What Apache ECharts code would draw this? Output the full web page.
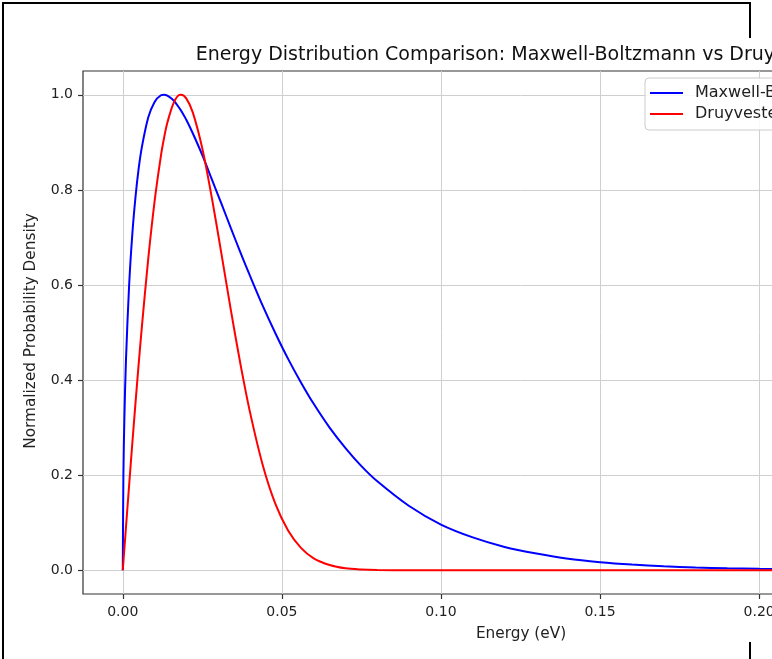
<!DOCTYPE html>
<html>
<head>
<meta charset="utf-8">
<script src="https://cdn.jsdelivr.net/npm/echarts@6/dist/echarts.min.js"></script>
<style>
  html, body { margin: 0; padding: 0; width: 772px; height: 659px; overflow: hidden; background: #fff; }
  #frame { position: absolute; left: 2px; top: 2px; width: 745px; height: 800px; border: 2px solid #000; }
  #cover { position: absolute; left: 6px; top: 38px; width: 900px; height: 604px; background: #fff; }
  #chart { position: absolute; left: 0; top: 0; width: 1000px; height: 659px; }
</style>
</head>
<body>
<div id="frame"></div>
<div id="cover"></div>
<div id="chart"></div>
<script>
const titleText = 'Energy Distribution Comparison: Maxwell-Boltzmann vs Druyvesteyn';
const xAxisLabel = 'Energy (eV)';
const yAxisLabel = 'Normalized Probability Density';
const seriesNames = ['Maxwell-Boltzmann', 'Druyvesteyn'];
const xTicks = [0, 0.05, 0.10, 0.15, 0.20, 0.25];
const yTicks = [0, 0.2, 0.4, 0.6, 0.8, 1.0];

const energy = [0, 0.0002, 0.0005, 0.001, 0.002, 0.003, 0.004, 0.005, 0.006, 0.008,
  0.010, 0.012, 0.013, 0.014, 0.016, 0.018, 0.0183, 0.020, 0.022, 0.025,
  0.028, 0.031, 0.034, 0.037, 0.040, 0.044, 0.048, 0.052, 0.056, 0.060,
  0.065, 0.070, 0.075, 0.080, 0.090, 0.100, 0.110, 0.120, 0.130, 0.140,
  0.150, 0.160, 0.170, 0.180, 0.190, 0.200, 0.210, 0.220, 0.230, 0.240, 0.250];

const maxwell = [0, 0.203, 0.318, 0.441, 0.600, 0.707, 0.785, 0.845, 0.890, 0.952,
  0.985, 0.999, 1.000, 0.998, 0.988, 0.970, 0.967, 0.947, 0.919, 0.873,
  0.822, 0.771, 0.719, 0.668, 0.619, 0.556, 0.498, 0.444, 0.395, 0.350,
  0.300, 0.257, 0.219, 0.187, 0.135, 0.096, 0.069, 0.049, 0.035, 0.024,
  0.017, 0.012, 0.0084, 0.0059, 0.0041, 0.0029, 0.0020, 0.0014, 0.0010, 0.0007, 0.0005];

const druyvesteyn = [0, 0.018, 0.045, 0.090, 0.179, 0.267, 0.352, 0.434, 0.512, 0.655,
  0.776, 0.872, 0.910, 0.941, 0.983, 1.000, 1.000, 0.992, 0.963, 0.887,
  0.783, 0.666, 0.546, 0.433, 0.332, 0.221, 0.139, 0.083, 0.047, 0.025,
  0.011, 0.004, 0.0015, 0.0005, 0, 0, 0, 0, 0, 0,
  0, 0, 0, 0, 0, 0, 0, 0, 0, 0, 0];

const FONT = '"DejaVu Sans", sans-serif';
const chart = echarts.init(document.getElementById('chart'), null, { renderer: 'canvas' });

const gridLineStyle = { color: '#cfcfcf', width: 1, type: 'solid' };

chart.setOption({
  animation: false,
  backgroundColor: 'transparent',
  grid: { left: 83, right: 42, top: 71, bottom: 65, show: true, borderColor: '#333', borderWidth: 1.2, containLabel: false },
  graphic: [
    { type: 'text', x: 523, y: 55, style: { text: titleText, font: '19px ' + FONT, fill: '#111', textAlign: 'center', textVerticalAlign: 'middle' } },
    { type: 'text', x: 521, y: 634, style: { text: xAxisLabel, font: '15.3px ' + FONT, fill: '#222', textAlign: 'center', textVerticalAlign: 'middle' } },
    { type: 'text', x: 31, y: 331, rotation: Math.PI / 2, style: { text: yAxisLabel, font: '15.3px ' + FONT, fill: '#222', textAlign: 'center', textVerticalAlign: 'middle' } }
  ],
  legend: {
    data: seriesNames,
    orient: 'vertical',
    left: 645, top: 78,
    backgroundColor: 'rgba(255,255,255,0.85)',
    borderColor: '#cccccc', borderWidth: 1, borderRadius: 4,
    padding: [7, 8, 8, 5],
    itemGap: 5, itemWidth: 33, itemHeight: 2, icon: 'rect',
    textStyle: { fontSize: 16, fontFamily: FONT, color: '#222', padding: [0, 0, 0, 7], lineHeight: 16 }
  },
  xAxis: {
    type: 'value', min: -0.0125, max: 0.2625,
    axisLine: { show: false, onZero: false },
    axisTick: { show: true, inside: false, length: 5, lineStyle: { color: '#333', width: 1.2 }, customValues: xTicks },
    axisLabel: { customValues: xTicks, margin: 11, fontSize: 14, fontFamily: FONT, color: '#222', formatter: v => v.toFixed(2) },
    splitLine: { show: true, customValues: xTicks, lineStyle: gridLineStyle }
  },
  yAxis: {
    type: 'value', min: -0.05, max: 1.05,
    axisLine: { show: false, onZero: false },
    axisTick: { show: true, inside: false, length: 5, lineStyle: { color: '#333', width: 1.2 }, customValues: yTicks },
    axisLabel: { customValues: yTicks, margin: 10, fontSize: 14, fontFamily: FONT, color: '#222', formatter: v => v.toFixed(1) },
    splitLine: { show: true, customValues: yTicks, lineStyle: gridLineStyle }
  },
  series: [
    {
      name: seriesNames[0], type: 'line', z: 3, showSymbol: false, smooth: 0.3,
      color: '#0000ff', lineStyle: { color: '#0000ff', width: 2 },
      data: energy.map((e, i) => [e, maxwell[i]])
    },
    {
      name: seriesNames[1], type: 'line', z: 4, showSymbol: false, smooth: 0.3,
      color: '#ff0000', lineStyle: { color: '#ff0000', width: 2 },
      data: energy.map((e, i) => [e, druyvesteyn[i]])
    }
  ]
});
</script>
</body>
</html>
